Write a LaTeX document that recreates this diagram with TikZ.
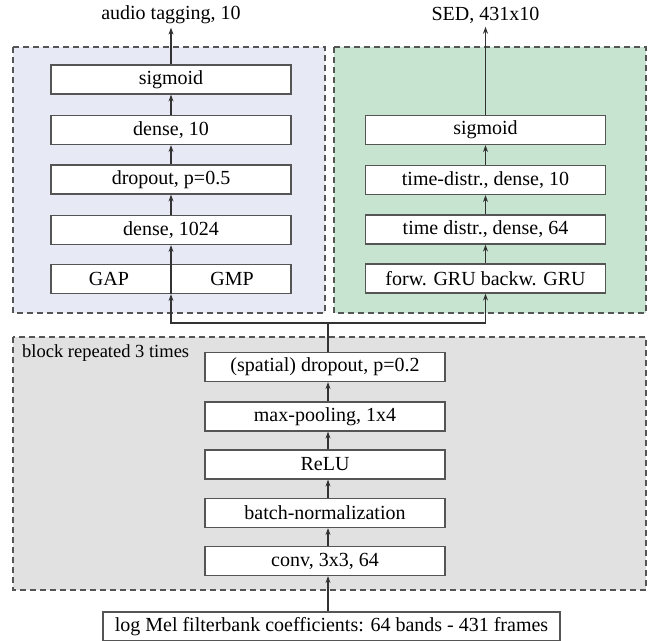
\documentclass[tikz,border=0pt]{standalone}
\usepackage{fontspec}
\setmainfont{Liberation Serif}
\usetikzlibrary{arrows.meta}
\definecolor{tagbg}{RGB}{231,233,245}
\definecolor{sedbg}{RGB}{199,228,209}
\definecolor{blockbg}{RGB}{225,225,225}
\definecolor{edge}{RGB}{85,85,85}

\begin{document}
\begin{tikzpicture}[x=1pt, y=-1pt, font=\fontsize{20}{22}\selectfont,
  main/.style = {draw=edge, line width=1.2pt, fill=white, minimum width=240pt, minimum height=29pt, inner sep=0pt},
  panel/.style = {draw=edge, dash pattern=on 6pt off 4pt, line width=1.1pt},
  arr/.style = {draw=edge!60!black, line width=1.1pt, -{Stealth[length=7pt,width=5pt]}}]
\clip (0,0) rectangle (658,640);
\fill[white] (0,0) rectangle (658,640);

% panels
\draw[panel, fill=tagbg] (13,47) rectangle (325,313);
\draw[panel, fill=sedbg] (334,47) rectangle (646,313);
\draw[panel, fill=blockbg] (13,337) rectangle (646,590);
\node[anchor=west, inner sep=0pt, font=\fontsize{18.5}{20}\selectfont] (blocklbl) at (22,353) {block repeated 3 times};

% audio tagging branch
\node[main] (lsig) at (171,79.5) {sigmoid};
\node[main] (ld10) at (171,130) {dense, 10};
\node[main] (ldrop) at (171,179.5) {dropout, p=0.5};
\node[main] (ld1024) at (171,230) {dense, 1024};
\node[main] (lpool) at (171,279) {};
\node (gap) at (109,279) {GAP};
\node (gmp) at (232,279) {GMP};
\node (tagout) at (171,15) {audio tagging, 10};

% SED branch
\node[main] (rsig) at (485.5,130) {sigmoid};
\node[main] (rd10) at (485.5,180) {time-distr., dense, 10};
\node[main] (rd64) at (485.5,229.5) {time distr., dense, 64};
\node[main] (rgru) at (485.5,278.5) {forw. GRU backw. GRU};
\node (sedout) at (485.5,15) {SED, 431x10};

% repeated block
\node[main] (sdrop) at (325,367) {(spatial) dropout, p=0.2};
\node[main] (pool) at (325,416.5) {max-pooling, 1x4};
\node[main] (relu) at (325,464.5) {ReLU};
\node[main] (bn) at (325,513) {batch-normalization};
\node[main] (conv) at (325,561) {conv, 3x3, 64};
\node[main, minimum width=457pt] (input) at (331.5,626.5) {log Mel filterbank coefficients: 64 bands - 431 frames};
\coordinate (spine) at (328,323);

\draw[arr] (input.north -| spine) -- (conv.south -| spine);
\draw[arr] (conv.north -| spine) -- (bn.south -| spine);
\draw[arr] (bn.north -| spine) -- (relu.south -| spine);
\draw[arr] (relu.north -| spine) -- (pool.south -| spine);
\draw[arr] (pool.north -| spine) -- (sdrop.south -| spine);
\draw[arr, -] (sdrop.north -| spine) -- (spine);
\draw[arr] (spine) -| (lpool.south);
\draw[arr] (spine) -| (rgru.south);

\draw[arr] (lpool.south) -- (ld1024.south);
\draw[arr] (ld1024) -- (ldrop);
\draw[arr] (ldrop) -- (ld10);
\draw[arr] (ld10) -- (lsig);
\draw[arr] (lsig) -- (tagout);

\draw[arr] (rgru) -- (rd64);
\draw[arr] (rd64) -- (rd10);
\draw[arr] (rd10) -- (rsig);
\draw[arr] (rsig) -- (sedout);
\end{tikzpicture}
\end{document}
